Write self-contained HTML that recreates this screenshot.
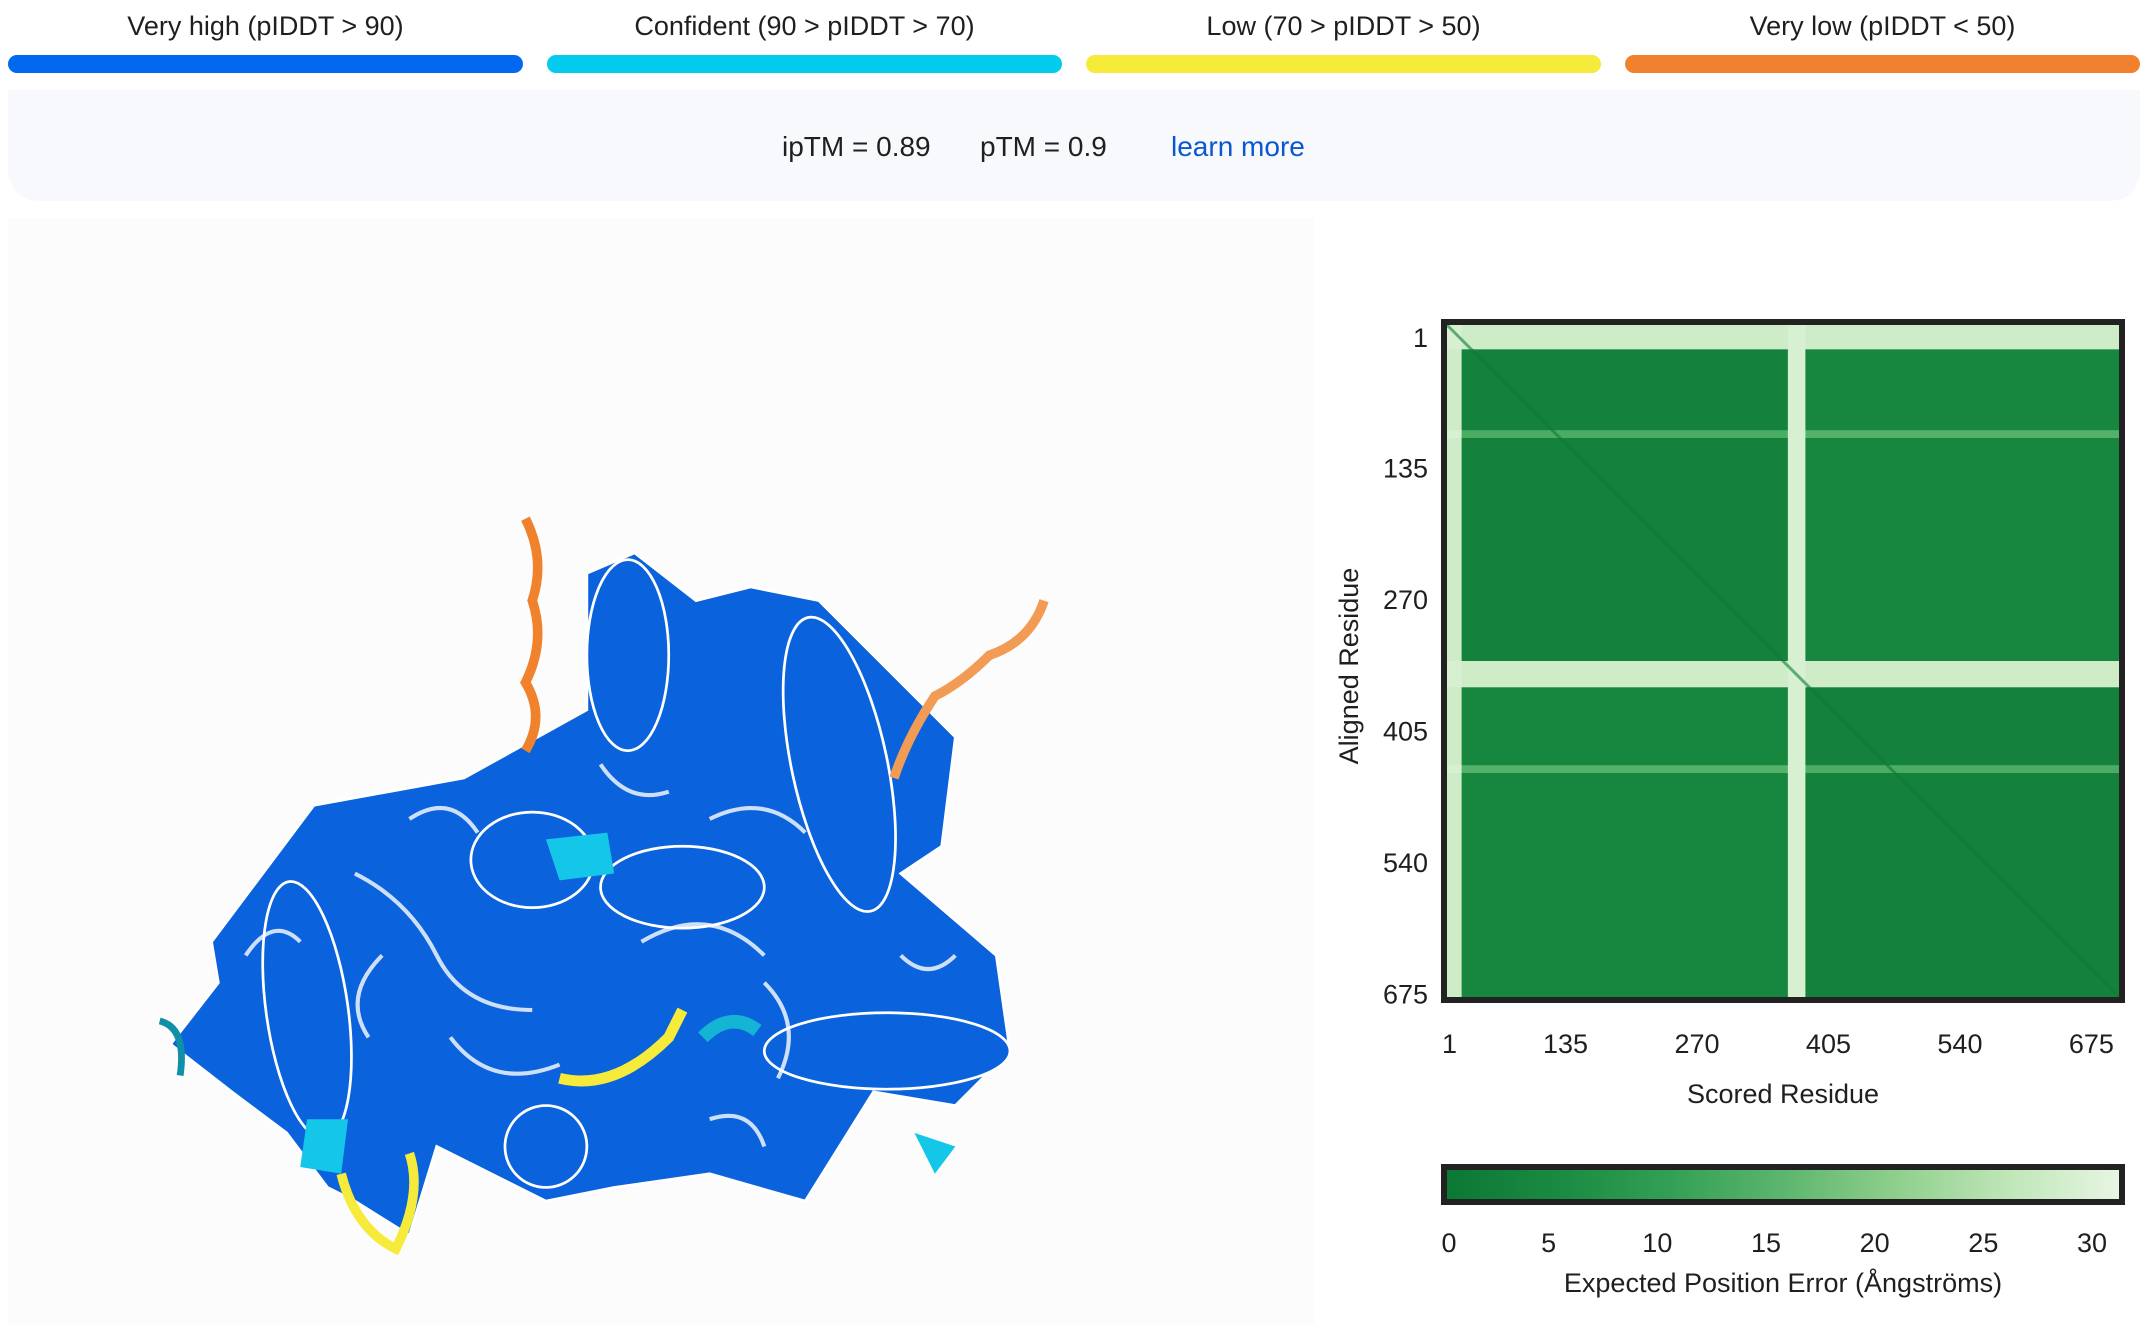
<!DOCTYPE html>
<html><head><meta charset="utf-8"><style>
html,body{margin:0;padding:0;background:#fff;width:2140px;height:1324px;overflow:hidden;font-family:"Liberation Sans",sans-serif;color:#1f1f1f}
.lbl{position:absolute;top:11px;font-size:27px;text-align:center;width:515px}
.bar{position:absolute;top:55px;height:18px;border-radius:9px;width:515px}
#info{position:absolute;left:8px;top:90px;width:2132px;height:111px;background:#f7f9fc;border-radius:0 0 30px 30px}
.it{position:absolute;top:131px;font-size:28px}
#left{position:absolute;left:8px;top:218px;width:1306px;height:1106px;background:#fcfcfc}
</style></head><body>
<div class="lbl" style="left:8px">Very high (pIDDT &gt; 90)</div>
<div class="lbl" style="left:547px">Confident (90 &gt; pIDDT &gt; 70)</div>
<div class="lbl" style="left:1086px">Low (70 &gt; pIDDT &gt; 50)</div>
<div class="lbl" style="left:1625px">Very low (pIDDT &lt; 50)</div>
<div class="bar" style="left:8px;background:#0069f0"></div>
<div class="bar" style="left:547px;background:#03cbed"></div>
<div class="bar" style="left:1086px;background:#f6ea3b"></div>
<div class="bar" style="left:1625px;background:#f0822e"></div>
<div id="info"></div>
<div class="it" style="left:782px">ipTM = 0.89</div>
<div class="it" style="left:980px">pTM = 0.9</div>
<div class="it" style="left:1171px;color:#0b57d0">learn more</div>
<div id="left"></div>
<svg style="position:absolute;left:0;top:0" width="2140" height="1324" viewBox="0 0 1568 970">
<g fill="#0a62dc" stroke="#fff" stroke-width="2">
<path d="M155,690 L230,590 L340,570 L430,520 L430,420 L465,405 L510,440 L550,430 L600,440 L640,480 L700,540 L690,620 L660,640 L730,700 L740,770 L700,810 L640,800 L590,880 L520,860 L450,870 L400,880 L320,840 L300,905 L260,880 L240,870 L210,830 L170,800 L125,765 L160,720 Z"/>
<ellipse cx="460" cy="480" rx="30" ry="70"/><ellipse cx="615" cy="560" rx="35" ry="110" transform="rotate(-12 615 560)"/>
<ellipse cx="225" cy="740" rx="30" ry="95" transform="rotate(-8 225 740)"/><ellipse cx="650" cy="770" rx="90" ry="28"/>
<ellipse cx="390" cy="630" rx="45" ry="35"/><ellipse cx="500" cy="650" rx="60" ry="30"/><ellipse cx="400" cy="840" rx="30" ry="30"/>
</g>
<g fill="none" stroke="#fff" stroke-width="3" opacity=".8">
<path d="M260,640 q40,20 60,60 t70,40"/><path d="M470,690 q50,-30 90,10"/><path d="M330,760 q30,40 80,20"/><path d="M520,600 q40,-20 70,10"/><path d="M560,720 q30,30 10,70"/><path d="M280,700 q-30,30 -10,60"/>
<path d="M180,700 q20,-30 40,-10"/><path d="M300,600 q30,-20 50,10"/><path d="M440,560 q20,30 50,20"/><path d="M520,820 q30,-10 40,20"/><path d="M660,700 q20,20 40,0"/>
</g>
<path d="M385,380 q15,30 5,60 q10,30 -5,60 q15,25 0,50" stroke="#f0822e" stroke-width="7" fill="none"/>
<path d="M765,440 q-10,30 -40,40 q-20,20 -40,30 q-20,30 -30,60" stroke="#f29b55" stroke-width="7" fill="none"/>
<path d="M410,790 q40,10 80,-30 l10,-20" stroke="#f6ea3b" stroke-width="8" fill="none"/>
<path d="M250,860 q10,40 40,55 q20,-40 10,-70" stroke="#f6ea3b" stroke-width="7" fill="none"/>
<path d="M225,820 l30,0 l-5,40 l-30,-5 z" fill="#14c6e8"/><path d="M400,615 l45,-5 l5,30 l-40,5 z" fill="#14c6e8"/>
<path d="M515,760 q20,-20 40,-5" stroke="#14b4d4" stroke-width="10" fill="none"/><path d="M670,830 l30,10 l-15,20 z" fill="#14c6e8"/>
<path d="M117,748 q20,5 15,40" stroke="#108fa8" stroke-width="5" fill="none"/>
</svg>

<svg id="pae" style="position:absolute;left:0;top:0" width="2140" height="1324"></svg>
<script>
// Scored (column) residue bins and aligned (row) residue bins, inclusive ranges
const colBinStart=[1,16,351,369];
const colBinEnd=[15,350,368,690];
const rowBinStart=[1,26,109,117,346,373,453,461];
const rowBinEnd=[25,108,116,345,372,452,460,690];
// expected position error (Å) per [row bin][col bin]
const paeMatrix=[
 [28,27,28,27],
 [27,3,28,4],
 [28,13,28,14],
 [27,3,28,4],
 [28,27,28,27],
 [27,4,28,3],
 [28,14,28,13],
 [27,4,28,3]
];
const diagonalError=1;
const tickValues=[1,135,270,405,540,675];
const cbTicks=[0,5,10,15,20,25,30];
const nRes=690;

const NS="http://www.w3.org/2000/svg";
const svg=document.getElementById('pae');
const X0=1447,Y0=325,W=672,H=672;
const xs=r=>X0+(r-1)/nRes*W;
const ys=r=>Y0+(r-1)/nRes*H;
const stops=[[0,[11,119,52]],[5,[26,138,66]],[10,[50,160,84]],[15,[92,181,110]],[20,[143,207,140]],[25,[191,230,184]],[30,[232,246,227]]];
function col(v){v=Math.max(0,Math.min(30,v));for(let i=0;i<stops.length-1;i++){const a=stops[i],b=stops[i+1];if(v<=b[0]){const t=(v-a[0])/(b[0]-a[0]);return 'rgb('+a[1].map((c,k)=>Math.round(c+(b[1][k]-c)*t)).join(',')+')';}}}
function mk(tag,attrs,parent){const e=document.createElementNS(NS,tag);for(const k in attrs)e.setAttribute(k,attrs[k]);(parent||svg).appendChild(e);return e;}
for(let i=0;i<rowBinStart.length;i++)for(let j=0;j<colBinStart.length;j++){
 const r=mk('rect',{x:xs(colBinStart[j]),y:ys(rowBinStart[i]),width:xs(colBinEnd[j]+1)-xs(colBinStart[j])+0.5,height:ys(rowBinEnd[i]+1)-ys(rowBinStart[i])+0.5,fill:col(paeMatrix[i][j])});
 
 
}
const d=mk('line',{x1:xs(1),y1:ys(1),x2:xs(nRes+1),y2:ys(nRes+1),stroke:col(diagonalError),'stroke-width':3,opacity:0.6});


const fr=mk('rect',{x:X0-3,y:Y0-3,width:W+6,height:H+6,fill:'none',stroke:'#222','stroke-width':6});


tickValues.forEach(v=>{
 const t=mk('text',{x:v===1?X0-5:xs(v)-12,y:1053,'font-size':27,'text-anchor':v===1?'start':'middle',fill:'#1f1f1f'});t.textContent=v;
 
 
 const u=mk('text',{x:1428,y:ys(v)+22,'font-size':27,'text-anchor':'end',fill:'#1f1f1f'});u.textContent=v;
 
 
});
let t=mk('text',{x:1783,y:1103,'font-size':27,'text-anchor':'middle',fill:'#1f1f1f'});t.textContent='Scored Residue';


t=mk('text',{x:1358,y:666,'font-size':27,'text-anchor':'middle',fill:'#1f1f1f',transform:'rotate(-90 1358 666)'});t.textContent='Aligned Residue';


// colorbar
const defs=mk('defs',{});const g=mk('linearGradient',{id:'gr'},defs);
stops.forEach(s=>mk('stop',{offset:(s[0]/30*100)+'%','stop-color':col(s[0])},g));
const cb=mk('rect',{x:1444,y:1167,width:678,height:35,fill:'url(#gr)',stroke:'#222','stroke-width':6});


const cx=v=>1440+v/30*(2092-1440);
cbTicks.forEach(v=>{const e=mk('text',{x:v===0?1449:cx(v),y:1252,'font-size':27,'text-anchor':'middle',fill:'#1f1f1f'});e.textContent=v;
 
 });
t=mk('text',{x:1783,y:1292,'font-size':27,'text-anchor':'middle',fill:'#1f1f1f'});t.textContent='Expected Position Error (Ångströms)';


</script>
</body></html>
